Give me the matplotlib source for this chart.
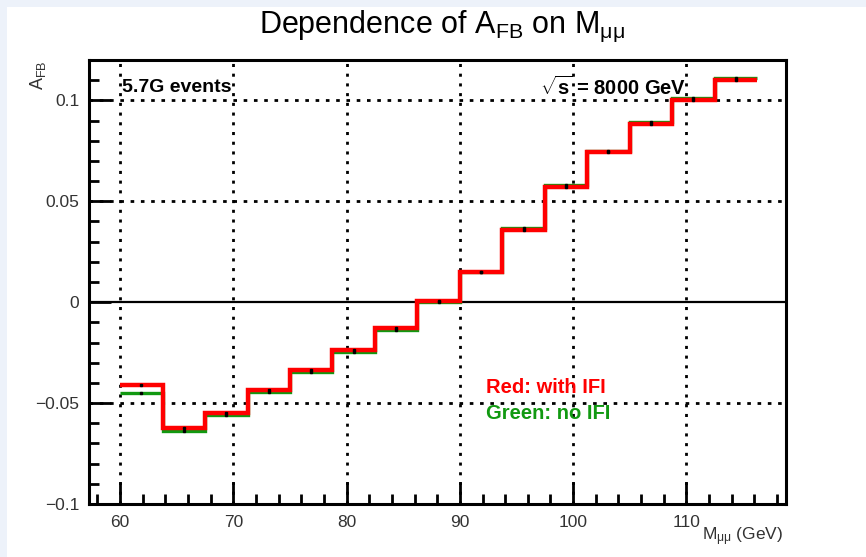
import matplotlib
matplotlib.use("Agg")
import matplotlib.pyplot as plt
import numpy as np
from matplotlib.patches import Rectangle
from matplotlib.ticker import MultipleLocator

plt.rcParams['font.family'] = ['Liberation Sans', 'DejaVu Sans']
plt.rcParams['mathtext.fontset'] = 'custom'
plt.rcParams['mathtext.rm'] = 'Liberation Sans'
plt.rcParams['mathtext.it'] = 'Liberation Sans:italic'
plt.rcParams['mathtext.bf'] = 'Liberation Sans:bold'

# Data
bin_edges = [60, 63.75, 67.5, 71.25, 75, 78.75, 82.5, 86.25, 90,
             93.75, 97.5, 101.25, 105, 108.75, 112.5, 116.25]
afb_with_ifi = [-0.0412, -0.0625, -0.0551, -0.0436, -0.0337, -0.0238, -0.0130, 0.0006,
                0.0150, 0.0360, 0.0571, 0.0744, 0.0885, 0.1000, 0.1099]
afb_no_ifi = [-0.0450, -0.0636, -0.0557, -0.0446, -0.0347, -0.0248, -0.0139, 0.0000,
              0.0149, 0.0366, 0.0579, 0.0750, 0.0893, 0.1010, 0.1109]
x_ticks = [60, 70, 80, 90, 100, 110]
y_ticks = [-0.1, -0.05, 0, 0.05, 0.1]
y_tick_labels = ["\u22120.1", "\u22120.05", "0", "0.05", "0.1"]

W, H = 866, 557
fig = plt.figure(figsize=(W/100, H/100), dpi=100)
fig.patch.set_facecolor('#edf2fa')
fig.patches.append(Rectangle((7/W, 0), 1, 1 - 7/H, transform=fig.transFigure,
                             facecolor='white', edgecolor='none', zorder=-10))

ax = fig.add_axes([89/W, 1 - 504/H, (786 - 89)/W, (504 - 60)/H])
ax.set_zorder(1)
ax.set_xlim(57.25, 118.8)
ax.set_ylim(-0.1, 0.12)

edges = np.array(bin_edges)
centers = 0.5 * (edges[:-1] + edges[1:])

# grid
for xv in x_ticks:
    ax.axvline(xv, color='black', lw=2.0, ls=(0, (1.1, 2.4)), zorder=1)
for yv in [-0.05, 0.05, 0.1]:
    ax.axhline(yv, color='black', lw=2.0, ls=(0, (1.3, 2.4)), zorder=1)
ax.axhline(0, color='black', lw=1.6, zorder=1)

ax.stairs(afb_no_ifi, edges, baseline=None, color='#119911', lw=2.4, zorder=3)
ax.stairs(afb_with_ifi, edges, baseline=None, color='#ff0000', lw=3.2, zorder=4)
ax.plot(centers, afb_no_ifi, ls='none', marker='s', ms=1.6, color='black', zorder=5)
ax.plot(centers, afb_with_ifi, ls='none', marker='s', ms=1.6, color='black', zorder=5)

ax.set_xticks(x_ticks)
ax.set_xticklabels([str(v) for v in x_ticks])
ax.set_yticks(y_ticks)
ax.set_yticklabels(y_tick_labels)
ax.xaxis.set_minor_locator(MultipleLocator(2))
ax.yaxis.set_minor_locator(MultipleLocator(0.01))
ax.tick_params(axis='both', which='major', direction='in', length=16, width=2.0,
               labelsize=12.5, labelcolor='#333333', pad=7)
ax.tick_params(axis='x', which='major', pad=8)
ax.tick_params(axis='both', which='minor', direction='in', length=7, width=2.0)
ax.tick_params(top=False, right=False)
for s in ax.spines.values():
    s.set_linewidth(2.2)

ax.text(0.047, 0.939, "5.7G events", transform=ax.transAxes, fontsize=14,
        fontweight='bold', ha='left', va='center', zorder=6)
ax.text(0.857, 0.939, r"$\mathbf{\sqrt{s}}$ = 8000 GeV", transform=ax.transAxes,
        fontsize=14.5, fontweight='bold', ha='right', va='center', zorder=6)
ax.text(92.3, -0.0421, "Red: with IFI", color='#ff0000', fontsize=14.5,
        fontweight='bold', ha='left', va='center', zorder=6)
ax.text(92.3, -0.0550, "Green: no IFI", color='#119911', fontsize=14.5,
        fontweight='bold', ha='left', va='center', zorder=6)

fig.text(442/W, 1 - 26/H, r"Dependence of A$_{\mathregular{FB}}$ on M$_{\mathregular{μμ}}$",
         fontsize=22, ha='center', va='center')
fig.text(783/W, 1 - 537/H, r"M$_{\mathregular{μμ}}$ (GeV)", fontsize=12.5, color='#333333',
         ha='right', va='center')
fig.text(38/W, 1 - 60/H, r"A$_{\mathregular{FB}}$", fontsize=13, color='#333333',
         rotation=90, ha='center', va='top')

fig.savefig("out.png", dpi=100, facecolor=fig.get_facecolor())
